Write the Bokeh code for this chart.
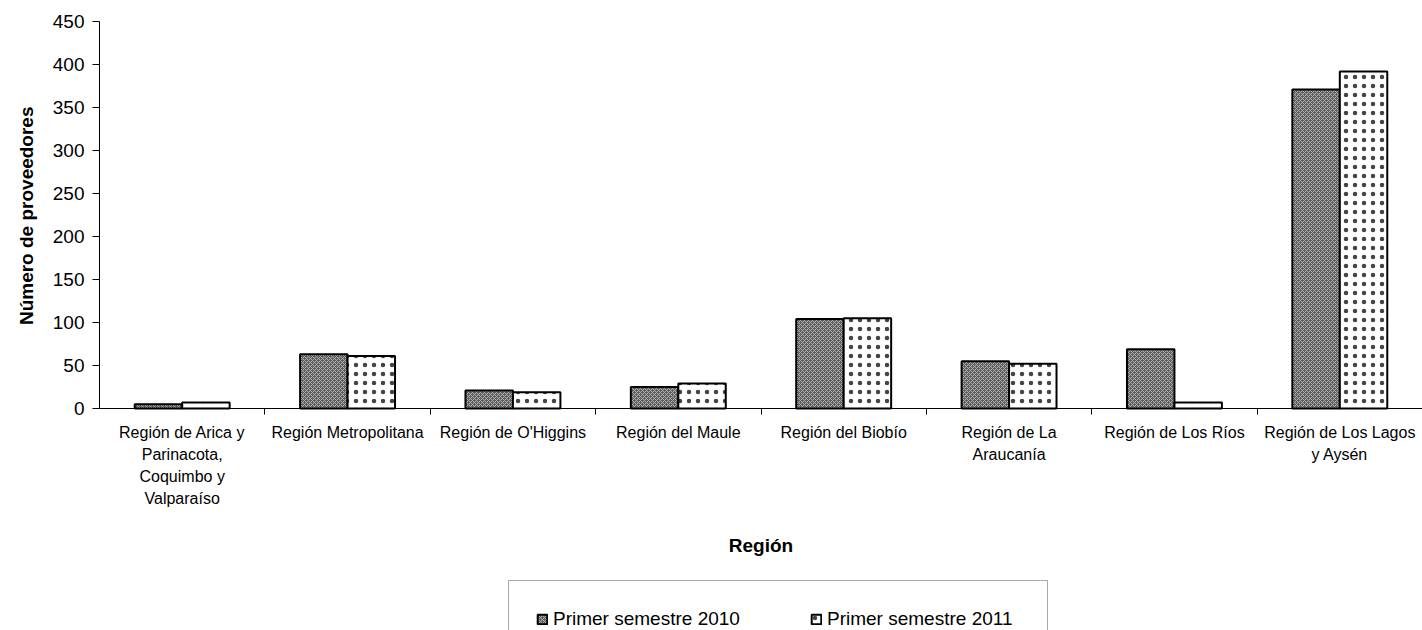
import numpy as np
from bokeh.plotting import figure
from bokeh.models import Range1d, FixedTicker, Legend, LegendItem, ColumnDataSource, Title
from bokeh.embed import file_html
from bokeh.resources import INLINE

# ---- data ----
regions = [
    "Región de Arica y\nParinacota,\nCoquimbo y\nValparaíso",
    "Región Metropolitana",
    "Región de O'Higgins",
    "Región del Maule",
    "Región del Biobío",
    "Región de La\nAraucanía",
    "Región de Los Ríos",
    "Región de Los Lagos\ny Aysén",
]
s2010 = [5, 63, 21, 25, 104, 55, 69, 371]
s2011 = [7, 61, 19, 29, 105, 52, 7, 392]
series_names = ["Primer semestre 2010", "Primer semestre 2011"]
y_ticks = [0, 50, 100, 150, 200, 250, 300, 350, 400, 450]
x_title = "Región"
y_title = "Número de proveedores"

FONT = "Liberation Sans"

STYLE_2010 = dict(fill_color="#5e5e5e", line_color="black", line_width=2,
                  hatch_pattern="diagonal_cross", hatch_color="#b0b0b0",
                  hatch_scale=4, hatch_weight=1)
STYLE_2011 = dict(fill_color="white", line_color="black", line_width=2,
                  hatch_pattern="dot", hatch_color="#444444",
                  hatch_scale=9, hatch_weight=1.6)

centers = np.arange(len(regions)) + 0.5
bw = 0.287
src = ColumnDataSource(dict(x1=centers - bw / 2, x2=centers + bw / 2, a=s2010, b=s2011))

# frame spans the full lower area so that the legend can sit inside it;
# 0 stays at the same height as in the reference (387 px for 450 units).
Y_TOP = 450
y_bottom = -Y_TOP * 222.0 / 387.0

p = figure(width=1422, height=630, x_range=Range1d(0, 8.0), y_range=Range1d(y_bottom, Y_TOP),
           output_backend="svg", toolbar_location=None,
           min_border_left=99, min_border_right=0, min_border_top=21, min_border_bottom=0)
p.xgrid.visible = False
p.ygrid.visible = False
p.outline_line_color = None
p.background_fill_color = "white"
p.border_fill_color = "white"

r1 = p.vbar(x="x1", top="a", width=bw, source=src, **STYLE_2010)
r2 = p.vbar(x="x2", top="b", width=bw, source=src, **STYLE_2011)

# x axis, fixed at y = 0
xa = p.xaxis[0]
xa.fixed_location = 0
xa.ticker = FixedTicker(ticks=[float(c) for c in centers],
                        minor_ticks=[float(v) for v in range(1, len(regions))])
xa.major_label_overrides = {float(c): lab for c, lab in zip(centers, regions)}
xa.major_tick_line_color = None
xa.major_tick_out = 0
xa.major_tick_in = 0
xa.minor_tick_out = 6
xa.minor_tick_in = 0
xa.minor_tick_line_color = "black"
xa.axis_line_color = "black"
xa.major_label_text_font = FONT
xa.major_label_text_font_size = "16px"
xa.major_label_text_color = "black"
xa.major_label_text_line_height = 1.3
xa.major_label_standoff = 9
xa.axis_label = x_title
xa.axis_label_text_font = FONT
xa.axis_label_text_font_size = "19px"
xa.axis_label_text_font_style = "bold"
xa.axis_label_text_color = "black"
xa.axis_label_standoff = 25

# y axis (line only from 0 to 450)
ya = p.yaxis[0]
ya.bounds = (0, Y_TOP)
ya.ticker = FixedTicker(ticks=y_ticks)
ya.major_tick_out = 7
ya.major_tick_in = 0
ya.minor_tick_line_color = None
ya.axis_line_color = "black"
ya.major_tick_line_color = "black"
ya.major_label_text_font = FONT
ya.major_label_text_font_size = "19px"
ya.major_label_text_color = "black"
ya.major_label_standoff = 8

# y title, centred on the 0-450 part of the axis
p.add_layout(Title(text=y_title, align="right", offset=85, standoff=26,
                   text_font=FONT, text_font_size="19px", text_font_style="bold",
                   text_color="black"), "left")

legend = Legend(
    items=[LegendItem(label=series_names[0], renderers=[r1]),
           LegendItem(label=series_names[1], renderers=[r2])],
    orientation="horizontal", location=(409, -28),
    padding=27, spacing=64, margin=0,
    glyph_width=12, glyph_height=12, label_standoff=5, label_height=22,
    label_width=193,
    label_text_font=FONT, label_text_font_size="19px", label_text_color="black",
    border_line_color="#555555", border_line_width=1,
    background_fill_color="white", background_fill_alpha=1.0,
)
p.add_layout(legend)

open("out.html", "w").write(file_html(p, INLINE))
